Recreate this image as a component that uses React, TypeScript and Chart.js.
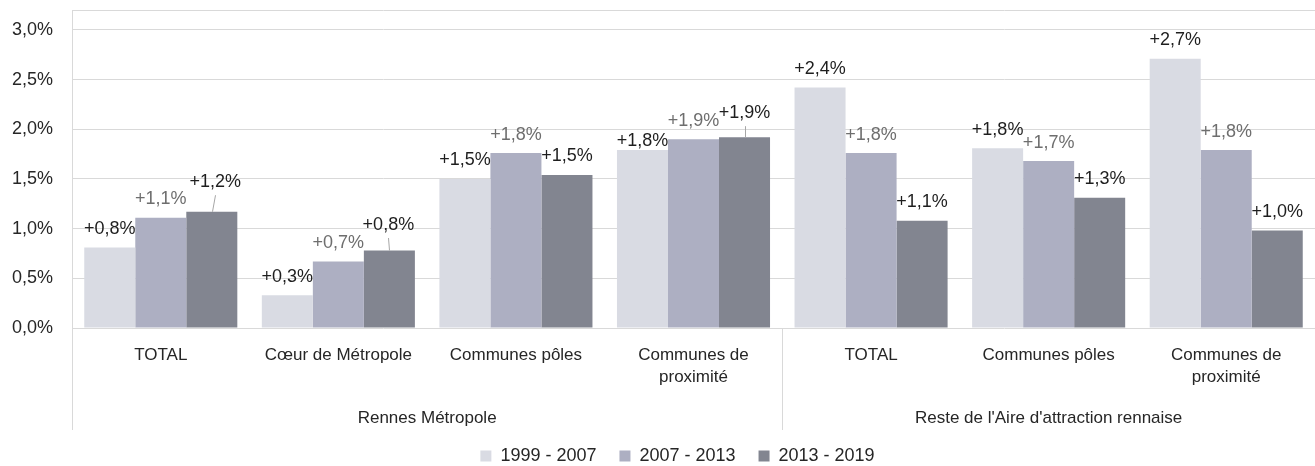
import React, { useEffect, useRef } from 'react';
import { Chart, registerables } from 'chart.js';

Chart.register(...registerables);

// ---------- data ----------
const categories: (string | string[])[] = [
  'TOTAL',
  'Cœur de Métropole',
  'Communes pôles',
  ['Communes de', 'proximité'],
  'TOTAL',
  'Communes pôles',
  ['Communes de', 'proximité'],
];
const groupNames = ['Rennes Métropole', "Reste de l'Aire d'attraction rennaise"];
const groupSizes = [4, 3];

const seriesNames = ['1999 - 2007', '2007 - 2013', '2013 - 2019'];
const values1999_2007 = [0.81, 0.33, 1.5, 1.79, 2.42, 1.81, 2.71];
const values2007_2013 = [1.11, 0.67, 1.76, 1.9, 1.76, 1.68, 1.79];
const values2013_2019 = [1.17, 0.78, 1.54, 1.92, 1.08, 1.31, 0.98];

const yTickValues = [0, 0.5, 1, 1.5, 2, 2.5, 3];
const yMax = 3.2;

// ---------- styles / layout ----------
const FONT = "'Liberation Sans', Arial, sans-serif";
const barColors = ['#D9DBE3', '#ADAFC2', '#828590'];
const labelColors = ['#1e1e1e', '#6e6e6e', '#1e1e1e'];
const textColor = '#262626';
const gridColor = '#D9D9D9';
const DEFAULT_LABEL_RISE = 18.5;
// label nudges keyed "dataset-index": dx, rise above bar top, leader line
const labelNudges: Record<string, { dx: number; rise: number; leader?: boolean }> = {
  '2-0': { dx: 3.5, rise: 29.5, leader: true },
  '2-1': { dx: -1, rise: 25.5, leader: true },
  '0-3': { dx: 0, rise: 8.7 },
  '2-3': { dx: 0, rise: 24, leader: true },
};
const LEGEND_SHIFT = 20;

const fmt = (v: number) => '+' + v.toFixed(1).replace('.', ',') + '%';

const dataLabelPlugin = {
  id: 'dataLabels',
  afterDatasetsDraw(chart: any) {
    const ctx = chart.ctx;
    ctx.save();
    ctx.font = `18px ${FONT}`;
    ctx.textAlign = 'center';
    ctx.textBaseline = 'middle';
    chart.data.datasets.forEach((ds: any, i: number) => {
      const meta = chart.getDatasetMeta(i);
      meta.data.forEach((bar: any, j: number) => {
        const n = labelNudges[`${i}-${j}`];
        const rise = n ? n.rise : DEFAULT_LABEL_RISE;
        const dx = n ? n.dx : 0;
        const lx = bar.x + dx;
        const ly = bar.y - rise;
        if (n && n.leader) {
          ctx.strokeStyle = '#A6A6A6';
          ctx.lineWidth = 1;
          ctx.beginPath();
          ctx.moveTo(Math.round(bar.x) + 0.5, bar.y);
          ctx.lineTo(Math.round(lx) + 0.5, ly + 13);
          ctx.stroke();
        }
        ctx.fillStyle = labelColors[i];
        ctx.fillText(fmt(ds.data[j]), lx, ly);
      });
    });
    ctx.restore();
  },
};

const groupAxisPlugin = {
  id: 'groupAxis',
  afterLayout(chart: any) {
    const lg = chart.legend;
    if (lg) {
      lg.left += LEGEND_SHIFT;
      lg.right += LEGEND_SHIFT;
    }
  },
  afterDraw(chart: any) {
    const ctx = chart.ctx;
    const xs = chart.scales.x;
    const area = chart.chartArea;
    const lineBottom = 430;
    ctx.save();
    ctx.strokeStyle = gridColor;
    ctx.lineWidth = 1;
    const lx = Math.round(area.left) + 0.5;
    ctx.beginPath();
    ctx.moveTo(lx, area.bottom);
    ctx.lineTo(lx, lineBottom);
    ctx.stroke();
    ctx.font = `17px ${FONT}`;
    ctx.fillStyle = textColor;
    ctx.textAlign = 'center';
    ctx.textBaseline = 'middle';
    let start = 0;
    groupSizes.forEach((size, g) => {
      const end = start + size - 1;
      let sum = 0;
      for (let k = start; k <= end; k++) sum += xs.getPixelForValue(k);
      const cx = sum / size;
      ctx.fillText(groupNames[g], cx, 418);
      if (g < groupSizes.length - 1) {
        const dxp = (xs.getPixelForValue(end) + xs.getPixelForValue(end + 1)) / 2;
        const px = Math.round(dxp) + 0.5;
        ctx.beginPath();
        ctx.moveTo(px, area.bottom);
        ctx.lineTo(px, lineBottom);
        ctx.stroke();
      }
      start += size;
    });
    ctx.restore();
  },
};

export default function App() {
  const ref = useRef<HTMLCanvasElement>(null);

  useEffect(() => {
    if (!ref.current) return;
    Chart.defaults.font.family = FONT;
    const chart = new Chart(ref.current, {
      type: 'bar',
      data: {
        labels: categories,
        datasets: [values1999_2007, values2007_2013, values2013_2019].map((d, i) => ({
          label: seriesNames[i],
          data: d,
          backgroundColor: barColors[i],
          borderWidth: 0,
          barPercentage: 1,
          categoryPercentage: 0.862,
        })),
      },
      options: {
        animation: false,
        responsive: true,
        maintainAspectRatio: false,
        layout: { padding: { top: 10, right: 0, left: 0, bottom: 0 } },
        plugins: {
          tooltip: { enabled: false },
          legend: {
            position: 'bottom',
            maxHeight: 42,
            labels: {
              boxWidth: 11,
              boxHeight: 11,
              padding: 23,
              color: textColor,
              font: { size: 18, family: FONT },
            },
          },
        },
        scales: {
          x: {
            type: 'category',
            grid: { display: false, drawTicks: false, tickLength: 0 },
            border: { display: false },
            ticks: {
              color: textColor,
              font: { size: 17, family: FONT, lineHeight: 1.3 },
              padding: 16,
              maxRotation: 0,
              minRotation: 0,
              autoSkip: false,
            },
            afterFit: (axis: any) => {
              axis.height = 96;
              axis.paddingLeft = 0;
              axis.paddingRight = 0;
            },
          },
          y: {
            min: 0,
            max: yMax,
            grid: { color: gridColor, drawTicks: false, tickLength: 0 },
            border: { display: true, color: gridColor },
            ticks: {
              color: textColor,
              font: { size: 18, family: FONT },
              padding: 19,
              callback: (v: any) =>
                yTickValues.includes(Number(v)) ? Number(v).toFixed(1).replace('.', ',') + '%' : '',
            },
            afterBuildTicks: (axis: any) => {
              axis.ticks = [...yTickValues, yMax].map((v) => ({ value: v }));
            },
            afterFit: (axis: any) => {
              axis.width = 72;
              axis.paddingTop = 0;
              axis.paddingBottom = 0;
            },
          },
        },
      },
      plugins: [dataLabelPlugin, groupAxisPlugin],
    } as any);
    return () => chart.destroy();
  }, []);

  return (
    <div style={{ position: 'fixed', left: 0, top: 0, width: 1315, height: 466, background: '#fff' }}>
      <canvas ref={ref} />
    </div>
  );
}
